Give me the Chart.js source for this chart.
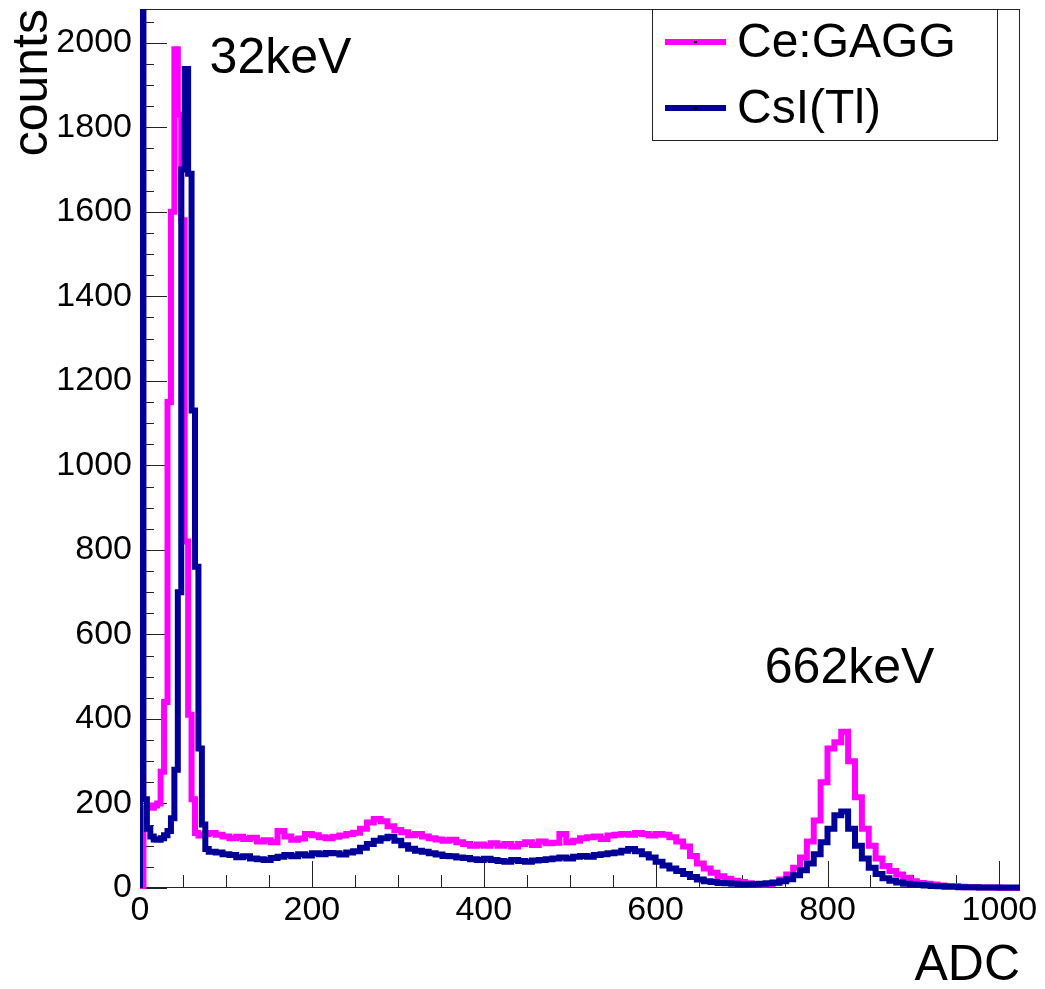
<!DOCTYPE html>
<html>
<head>
<meta charset="utf-8">
<script src="https://cdn.jsdelivr.net/npm/chart.js@4.4.1/dist/chart.umd.min.js"></script>
<style>
  html, body { margin: 0; padding: 0; background: #fff; }
</style>
</head>
<body>
<canvas id="chart" width="1045" height="989"></canvas>
<script>
// ADC spectrum, two scintillators (Cs-137 source)
// low part: 4 ADC bins (left edges), rest: 8 ADC bins starting at 80
const lowEdges = [0, 4, 8, 12, 16, 20, 24, 28, 32, 36, 40, 44, 48, 52, 56, 60, 64, 68, 72, 76];
const gaggLow = [5, 190, 195, 190, 195, 200, 275, 440, 1150, 1600, 1985, 1830, 1580, 820, 410, 210, 130, 124, 126, 128];
const csiLow = [3000, 210, 140, 122, 115, 114, 118, 125, 135, 165, 280, 700, 1700, 1938, 1690, 1130, 760, 330, 150, 92];

const highStart = 80;
const highWidth = 8;
const gaggHigh = [
  130, 126, 122, 118, 121, 116, 119, 110, 113, 108, 135, 122, 114, 117, 128, 125,
  120, 118, 121, 124, 128, 131, 140, 155, 163, 158, 146, 137, 132, 125, 128, 122,
  118, 115, 112, 114, 108, 104, 100, 103, 100, 106, 100, 104, 98, 104, 108, 102,
  110, 106, 107, 128, 108, 112, 118, 120, 122, 116, 124, 126, 128, 126, 130, 128,
  124, 128, 126, 120, 110, 98, 76, 58, 46, 36, 28, 22, 17, 14, 11, 9,
  8, 9, 12, 20, 32, 48, 72, 110, 160, 250, 330, 345, 370, 300, 215, 140,
  100, 70, 52, 40, 32, 24, 16, 12, 10, 8, 6, 5, 4, 3, 2, 2,
  1, 1, 1, 0, 0, 0
];
const csiHigh = [
  86, 84, 80, 78, 73, 75, 70, 68, 66, 71, 74, 78, 75, 80, 77, 82,
  80, 83, 82, 79, 84, 87, 95, 104, 112, 118, 121, 112, 101, 93, 88, 86,
  82, 79, 76, 75, 72, 71, 68, 66, 69, 66, 64, 62, 66, 64, 62, 65,
  66, 68, 70, 72, 70, 74, 76, 74, 78, 80, 82, 84, 88, 92, 87, 80,
  72, 62, 53, 46, 40, 33, 26, 20, 16, 14, 12, 11, 10, 9, 9, 9,
  10, 11, 13, 16, 21, 30, 42, 58, 80, 108, 140, 172, 181, 140, 100, 70,
  48, 33, 23, 17, 13, 10, 8, 7, 6, 5, 4, 3, 3, 2, 2, 2,
  1, 1, 1, 1, 1, 1
];

const xTickLabels = [0, 200, 400, 600, 800, 1000];
const yTickLabels = [0, 200, 400, 600, 800, 1000, 1200, 1400, 1600, 1800, 2000];
const xMax = 1024;
const yMax = 2080;
const minorStep = 50;

const FONT = '"Liberation Sans", Arial, Helvetica, sans-serif';
const GAGG_COLOR = '#ff00ff';
const CSI_COLOR = '#000099';

// histogram outline: start on the baseline, one point per bin left edge, close at xMax
function histPoints(edges, values) {
  const pts = [{ x: 0, y: 0 }];
  edges.forEach((e, i) => pts.push({ x: e, y: values[i] }));
  pts.push({ x: xMax, y: values[values.length - 1] });
  return pts;
}

const highEdges = gaggHigh.map((_, i) => highStart + i * highWidth);
const edges = lowEdges.concat(highEdges);

// inward ticks + frame, ROOT style
const frameTicks = {
  id: 'frameTicks',
  beforeDatasetsDraw(chart) {
    const { ctx, chartArea: a, scales: { x, y } } = chart;
    ctx.save();
    ctx.strokeStyle = '#222';
    ctx.lineWidth = 1;
    ctx.strokeRect(a.left + 0.5, a.top + 0.5, a.right - a.left - 1, a.bottom - a.top - 1);
    ctx.beginPath();
    for (let v = 0; v <= x.max; v += minorStep) {
      const px = Math.round(x.getPixelForValue(v)) + 0.5;
      const len = xTickLabels.includes(v) ? 27 : 13;
      ctx.moveTo(px, a.bottom);
      ctx.lineTo(px, a.bottom - len);
    }
    for (let v = 0; v <= y.max; v += minorStep) {
      const py = Math.round(y.getPixelForValue(v)) + 0.5;
      const len = yTickLabels.includes(v) ? 27 : 14;
      ctx.moveTo(a.left, py);
      ctx.lineTo(a.left + len, py);
    }
    ctx.stroke();
    ctx.restore();
  }
};

// peak labels and the boxed legend
const labelsLegend = {
  id: 'labelsLegend',
  afterDatasetsDraw(chart) {
    const { ctx, chartArea: a, scales: { x, y } } = chart;
    ctx.save();
    ctx.fillStyle = '#000';
    ctx.textBaseline = 'alphabetic';
    ctx.textAlign = 'left';
    ctx.font = '50px ' + FONT;
    ctx.fillText('32keV', x.getPixelForValue(81), y.getPixelForValue(1928));
    ctx.fillText('662keV', x.getPixelForValue(727), y.getPixelForValue(486));

    // legend box
    const bx = a.right - 368, by = a.top, bw = 345, bh = 131;
    ctx.fillStyle = '#fff';
    ctx.fillRect(bx, by, bw, bh);
    ctx.strokeStyle = '#222';
    ctx.lineWidth = 1;
    ctx.strokeRect(bx + 0.5, by + 0.5, bw, bh);
    ctx.font = '48px ' + FONT;
    chart.data.datasets.forEach((ds, i) => {
      const cy = by + 33 + i * 66;
      ctx.strokeStyle = ds.borderColor;
      ctx.lineWidth = 6;
      ctx.beginPath();
      ctx.moveTo(bx + 13, cy);
      ctx.lineTo(bx + 74, cy);
      ctx.stroke();
      ctx.fillStyle = '#000';
      ctx.fillRect(bx + 42, cy - 1, 3, 2);
      ctx.fillText(ds.label, bx + 85, cy + 15);
    });
    ctx.restore();
  }
};

function noPadding(s) {
  s.paddingTop = 0;
  s.paddingBottom = 0;
  s.paddingLeft = 0;
  s.paddingRight = 0;
}

new Chart(document.getElementById('chart'), {
  type: 'line',
  data: {
    datasets: [
      {
        label: 'Ce:GAGG',
        data: histPoints(edges, gaggLow.concat(gaggHigh)),
        borderColor: GAGG_COLOR,
        borderWidth: 6,
        stepped: 'before',
        pointRadius: 0,
        fill: false,
        order: 1,
        clip: { left: 0, top: 0, right: 0, bottom: 4 }
      },
      {
        label: 'CsI(Tl)',
        data: histPoints(edges, csiLow.concat(csiHigh)),
        borderColor: CSI_COLOR,
        borderWidth: 6,
        stepped: 'before',
        pointRadius: 0,
        fill: false,
        order: 0,
        clip: { left: 0, top: 0, right: 0, bottom: 4 }
      }
    ]
  },
  options: {
    responsive: false,
    animation: false,
    devicePixelRatio: 1,
    layout: { padding: { left: 0, top: 9, right: 25, bottom: 0 } },
    plugins: { legend: { display: false }, tooltip: { enabled: false } },
    scales: {
      x: {
        type: 'linear',
        min: 0,
        max: xMax,
        grid: { display: false, drawTicks: false },
        border: { display: false },
        afterBuildTicks(s) { s.ticks = xTickLabels.map(v => ({ value: v })); },
        ticks: {
          autoSkip: false,
          maxRotation: 0,
          padding: 2,
          color: '#000',
          font: { family: FONT, size: 34 },
          callback: v => String(v)
        },
        title: {
          display: true,
          text: 'ADC',
          align: 'end',
          color: '#000',
          font: { family: FONT, size: 50 },
          padding: { top: 0, bottom: -7 }
        },
        afterFit(s) { s.height = 101; noPadding(s); }
      },
      y: {
        type: 'linear',
        min: 0,
        max: yMax,
        grid: { display: false, drawTicks: false },
        border: { display: false },
        afterBuildTicks(s) { s.ticks = yTickLabels.map(v => ({ value: v })); },
        ticks: {
          autoSkip: false,
          padding: 8,
          color: '#000',
          font: { family: FONT, size: 34 },
          callback: v => String(v)
        },
        title: {
          display: true,
          text: 'counts',
          align: 'end',
          color: '#000',
          font: { family: FONT, size: 50 },
          padding: 3
        },
        afterFit(s) { s.width = 140; noPadding(s); }
      }
    }
  },
  plugins: [frameTicks, labelsLegend]
});
</script>
</body>
</html>
